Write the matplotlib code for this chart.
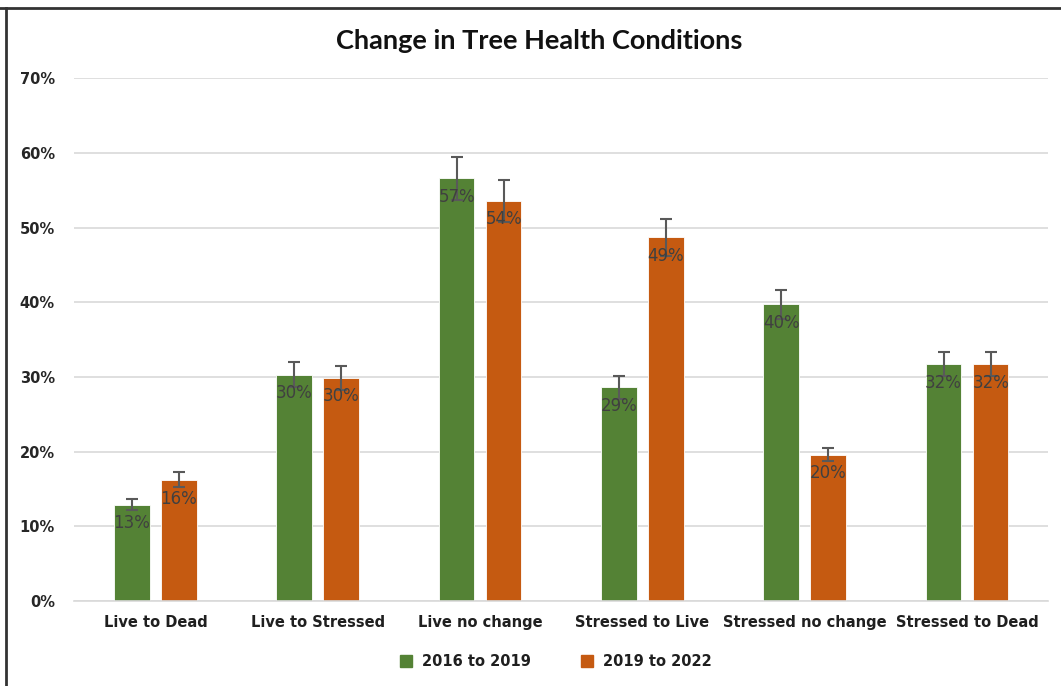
#!/usr/bin/env python3
"""Change in tree health conditions, grouped bars with error bars."""

import matplotlib.pyplot as plt
from matplotlib.lines import Line2D
import numpy as np

GREEN = "#548235"
ORANGE = "#C55A11"
GRID = "#D9D9D9"
LABEL_GRAY = "#404040"
ERR_GRAY = "#595959"

categories = [
    "Live to Dead",
    "Live to Stressed",
    "Live no change",
    "Stressed to Live",
    "Stressed no change",
    "Stressed to Dead",
]
series_names = ["2016 to 2019", "2019 to 2022"]
vals_2016_2019 = [0.129, 0.303, 0.566, 0.286, 0.397, 0.317]
vals_2019_2022 = [0.162, 0.299, 0.536, 0.487, 0.196, 0.317]
err_2016_2019 = [0.007, 0.017, 0.029, 0.015, 0.020, 0.016]
err_2019_2022 = [0.010, 0.016, 0.028, 0.025, 0.009, 0.016]
yticks = [0.0, 0.1, 0.2, 0.3, 0.4, 0.5, 0.6, 0.7]


def main() -> None:
    fig = plt.figure(figsize=(10.61, 6.86), dpi=100)
    ax = fig.add_axes([0.070, 0.124, 0.918, 0.762])

    x = np.arange(len(categories))
    width = 0.22
    offset = 0.145

    for vals, errs, color, sign in [
        (vals_2016_2019, err_2016_2019, GREEN, -1),
        (vals_2019_2022, err_2019_2022, ORANGE, 1),
    ]:
        xs = x + sign * offset
        ax.bar(xs, vals, width=width, color=color, edgecolor="white",
               linewidth=0.6, zorder=2)
        ax.errorbar(xs, vals, yerr=errs, fmt="none", ecolor=ERR_GRAY,
                    elinewidth=1.5, capsize=4, capthick=1.5, zorder=4)
        for xi, v in zip(xs, vals):
            ax.text(xi, v - 0.025, f"{round(v * 100):.0f}%", ha="center",
                    va="center", fontsize=12, color=LABEL_GRAY, zorder=5)

    ax.set_xlim(-0.5, len(categories) - 0.5)
    ax.set_ylim(0, 0.7)
    ax.set_yticks(yticks)
    ax.set_yticklabels([f"{t:.0%}" for t in yticks], fontsize=10.5,
                       fontweight="bold", color="#262626")
    ax.set_xticks(x)
    ax.set_xticklabels(categories, fontsize=10.5, fontweight="bold",
                       color="#1F1F1F")
    ax.tick_params(axis="both", length=0, pad=14)
    ax.tick_params(axis="x", pad=10)
    ax.yaxis.grid(True, color=GRID, linewidth=1.2, zorder=0)
    ax.set_axisbelow(True)
    for side in ["top", "right", "left"]:
        ax.spines[side].set_visible(False)
    ax.spines["bottom"].set_color(GRID)
    ax.spines["bottom"].set_linewidth(1.2)

    fig.text(0.508, 0.940, "Change in Tree Health Conditions", ha="center",
             va="center", fontsize=19.5, fontweight="bold", family="Lato",
             color="#111111")

    handles = [
        Line2D([], [], marker="s", linestyle="none", markersize=8,
               markerfacecolor=c, markeredgecolor=c)
        for c in (GREEN, ORANGE)
    ]
    leg = fig.legend(handles, series_names, loc="center",
                     bbox_to_anchor=(0.52, 0.035), ncol=2, frameon=False,
                     handletextpad=0.1, columnspacing=2.8,
                     prop={"size": 10.5, "weight": "bold"})
    for t in leg.get_texts():
        t.set_color("#1F1F1F")

    # chart frame edges visible in the reference (top and left)
    fig.add_artist(Line2D([0, 1], [0.988, 0.988], transform=fig.transFigure,
                          color="#333333", linewidth=2))
    fig.add_artist(Line2D([0.006, 0.006], [0, 0.988], transform=fig.transFigure,
                          color="#333333", linewidth=2))

    fig.savefig("out.png", facecolor="white")
    plt.close(fig)


if __name__ == "__main__":
    main()
